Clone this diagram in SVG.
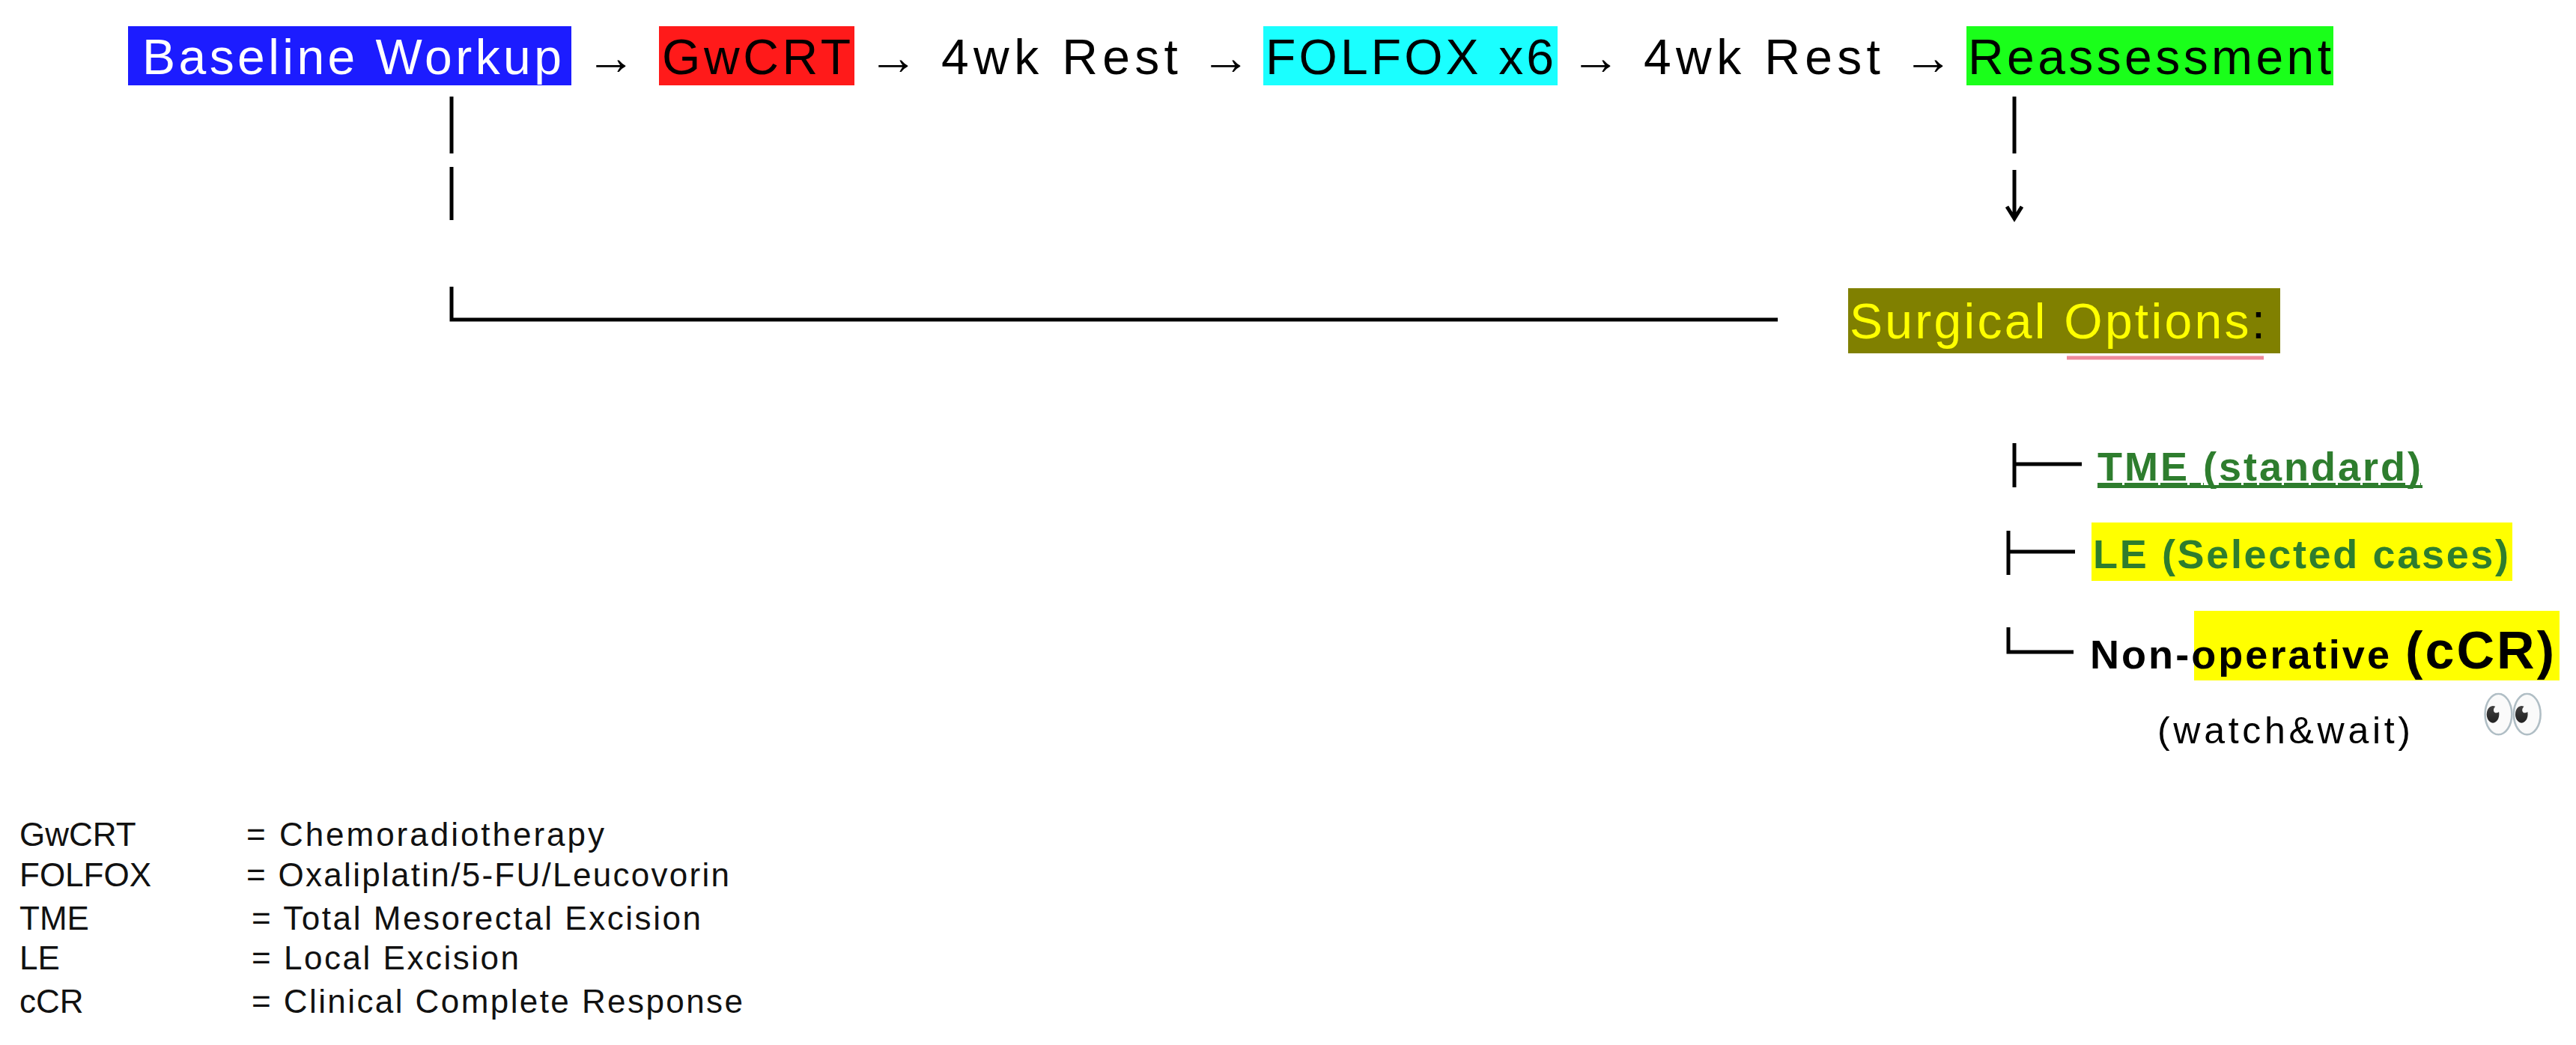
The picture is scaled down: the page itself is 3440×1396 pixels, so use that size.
<svg xmlns="http://www.w3.org/2000/svg" width="3440" height="1396" viewBox="0 0 3440 1396">
<style>
text{font-family:"Liberation Sans",Arial,sans-serif}
.top{font-size:66px}
.ln{stroke:#000;stroke-width:5;fill:none}
.g{fill:#2e7d2e;font-weight:bold;font-size:54px}
.leg{font-size:44px;fill:#111}
</style>
<rect width="3440" height="1396" fill="#fff"/>
<g id="baseline"><rect x="171" y="35" width="592" height="79" fill="#1c1cff"/><text class="top" x="190" y="99" fill="#fff" textLength="560">Baseline Workup</text></g>
<text class="top" x="783" y="99">→</text>
<g id="gwcrt"><rect x="880" y="35" width="261" height="79" fill="#ff1a1a"/><text class="top" x="884" y="99" textLength="252">GwCRT</text></g>
<text class="top" x="1160" y="99" textLength="510">→ 4wk Rest →</text>
<g id="folfox"><rect x="1687" y="35" width="393" height="79" fill="#1affff"/><text class="top" x="1690" y="99" textLength="385">FOLFOX x6</text></g>
<text class="top" x="2098" y="99" textLength="510">→ 4wk Rest →</text>
<g id="reassess"><rect x="2626" y="35" width="490" height="79" fill="#1aff1a"/><text class="top" x="2628" y="99" textLength="485">Reassessment</text></g>
<g id="surgical"><rect x="2468" y="385" width="577" height="87" fill="#808000"/><text x="2470" y="452" font-size="66" fill="#ffff00" textLength="555">Surgical Options<tspan fill="#000">:</tspan></text><line x1="2760" y1="478" x2="3023" y2="478" stroke="#f08a9a" stroke-width="5"/></g>
<g id="connectors">
<line class="ln" x1="603" y1="129" x2="603" y2="205"/>
<line class="ln" x1="603" y1="223" x2="603" y2="294"/>
<path class="ln" d="M603 383 V427 H2374"/>
<line class="ln" x1="2690" y1="129" x2="2690" y2="205"/>
<path class="ln" d="M2690 227 V292 M2680 276 L2690 292 L2700 276"/>
<path class="ln" d="M2690 592 V651 M2690 620 H2780"/>
<path class="ln" d="M2682 709 V768 M2682 737 H2771"/>
<path class="ln" d="M2682 838 V871 H2769"/>
</g>
<g id="tme"><text class="g" x="2801" y="642" textLength="432" text-decoration="underline">TME (standard)</text><line x1="2801" y1="650" x2="3235" y2="650" stroke="#2e7d2e" stroke-width="4"/></g>
<g id="le"><rect x="2793" y="698" width="562" height="78" fill="#ffff00"/><text class="g" x="2795" y="759" textLength="555">LE (Selected cases)</text></g>
<g id="nonop"><rect x="2930" y="816" width="488" height="93" fill="#ffff00"/><text x="2791" y="893" font-weight="bold" font-size="54" textLength="620">Non-operative <tspan font-size="70">(cCR)</tspan></text>
<text x="3312" y="978" font-size="70" font-family="Noto Color Emoji,sans-serif">👀</text>
<text x="2881" y="993" font-size="50" textLength="338">(watch&amp;wait)</text></g>
<g id="legend">
<text class="leg" x="26" y="1130">GwCRT</text><text class="leg" x="329" y="1130" textLength="478">= Chemoradiotherapy</text>
<text class="leg" x="26" y="1184">FOLFOX</text><text class="leg" x="329" y="1184" textLength="645">= Oxaliplatin/5-FU/Leucovorin</text>
<text class="leg" x="26" y="1242">TME</text><text class="leg" x="336" y="1242" textLength="600">= Total Mesorectal Excision</text>
<text class="leg" x="26" y="1295">LE</text><text class="leg" x="336" y="1295" textLength="357">= Local Excision</text>
<text class="leg" x="26" y="1353">cCR</text><text class="leg" x="336" y="1353" textLength="656">= Clinical Complete Response</text>
</g>
</svg>
